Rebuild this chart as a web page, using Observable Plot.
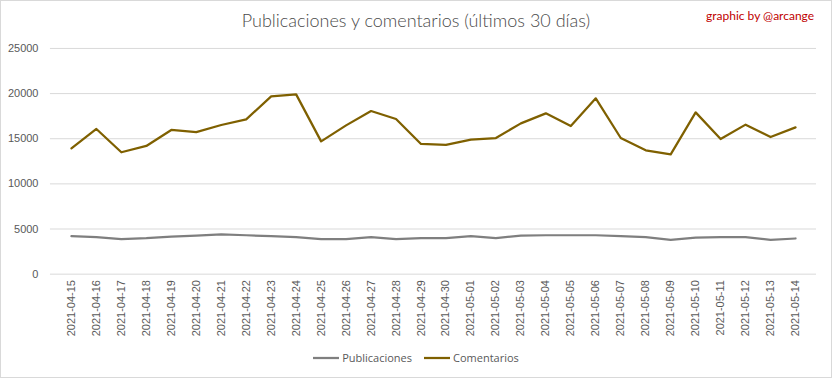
<!DOCTYPE html>
<html><head><meta charset="utf-8">
<script src="https://cdn.jsdelivr.net/npm/d3@7"></script>
<script src="https://cdn.jsdelivr.net/npm/@observablehq/plot@0.6"></script>
<style>
body{margin:0;background:#fff;}
#chart{position:relative;box-sizing:border-box;width:832px;height:378px;border:1px solid #d9d9d9;background:#fff;font-family:"Liberation Sans",Arial,sans-serif;overflow:hidden}
#title{position:absolute;top:8px;left:-1px;width:832px;text-align:center;font-family:Lato,"Open Sans",sans-serif;font-weight:300;font-size:18px;color:#4a4a4a;}
#credit{position:absolute;top:7px;left:705px;font-family:Lato,"Open Sans",sans-serif;font-size:12px;color:#c00000}
#plot{position:absolute;left:-1px;top:-1px}
#legend{position:absolute;top:349px;left:-1px;width:832px;display:flex;justify-content:center;gap:12px;font-family:"Open Sans",sans-serif;font-size:11px;color:#595959}
#legend span{display:flex;align-items:center;gap:3px}
</style></head>
<body>
<div id="chart">
  <div id="title">Publicaciones y comentarios (últimos 30 días)</div>
  <div id="credit">graphic by @arcange</div>
  <div id="plot"></div>
  <div id="legend"></div>
</div>
<script>
const dates = ["2021-04-15","2021-04-16","2021-04-17","2021-04-18","2021-04-19","2021-04-20","2021-04-21","2021-04-22","2021-04-23","2021-04-24","2021-04-25","2021-04-26","2021-04-27","2021-04-28","2021-04-29","2021-04-30","2021-05-01","2021-05-02","2021-05-03","2021-05-04","2021-05-05","2021-05-06","2021-05-07","2021-05-08","2021-05-09","2021-05-10","2021-05-11","2021-05-12","2021-05-13","2021-05-14"];
const publicaciones = [4200,4090,3870,3980,4170,4280,4420,4310,4200,4090,3870,3870,4090,3870,3980,3980,4200,3980,4280,4310,4310,4310,4200,4090,3800,4060,4090,4090,3800,3950];
const comentarios = [13940,16080,13500,14200,15970,15740,16520,17150,19690,19910,14710,16480,18070,17180,14420,14310,14900,15080,16700,17810,16410,19470,15080,13720,13270,17920,14970,16560,15190,16260];
const series = ["Publicaciones","Comentarios"];
const colors = ["#7f7f7f","#7f6000"];
const yTicks = [0,5000,10000,15000,20000,25000];

const data = [];
dates.forEach((d,i)=>{
  data.push({date:d, value:publicaciones[i], series:series[0]});
  data.push({date:d, value:comentarios[i], series:series[1]});
});

const chart = Plot.plot({
  width:832, height:345,
  marginLeft:50, marginRight:15, marginTop:48, marginBottom:71,
  style:{fontSize:"11px", color:"#595959", fontFamily:"'Liberation Sans', Arial, sans-serif", background:"transparent"},
  x:{type:"point", domain:dates, padding:0.5, label:null},
  y:{domain:[0,25000], label:null},
  color:{domain:series, range:colors},
  marks:[
    Plot.gridY(yTicks,{stroke:"#d9d9d9", strokeOpacity:1}),
    Plot.axisY(yTicks,{tickSize:0, tickPadding:12, label:null, tickFormat:d3.format("d")}),
    Plot.axisX({tickSize:0, tickPadding:6, tickRotate:-90, label:null}),
    Plot.line(data,{x:"date", y:"value", stroke:"series", z:"series", strokeWidth:2.25, strokeLinejoin:"round"})
  ]
});
document.getElementById("plot").appendChild(chart);

const legend = document.getElementById("legend");
series.forEach((s,i)=>{
  const span = document.createElement("span");
  span.innerHTML = `<svg width="26" height="4"><line x1="0" x2="26" y1="2" y2="2" stroke="${colors[i]}" stroke-width="2.25"/></svg>${s}`;
  legend.appendChild(span);
});
</script>
</body></html>
